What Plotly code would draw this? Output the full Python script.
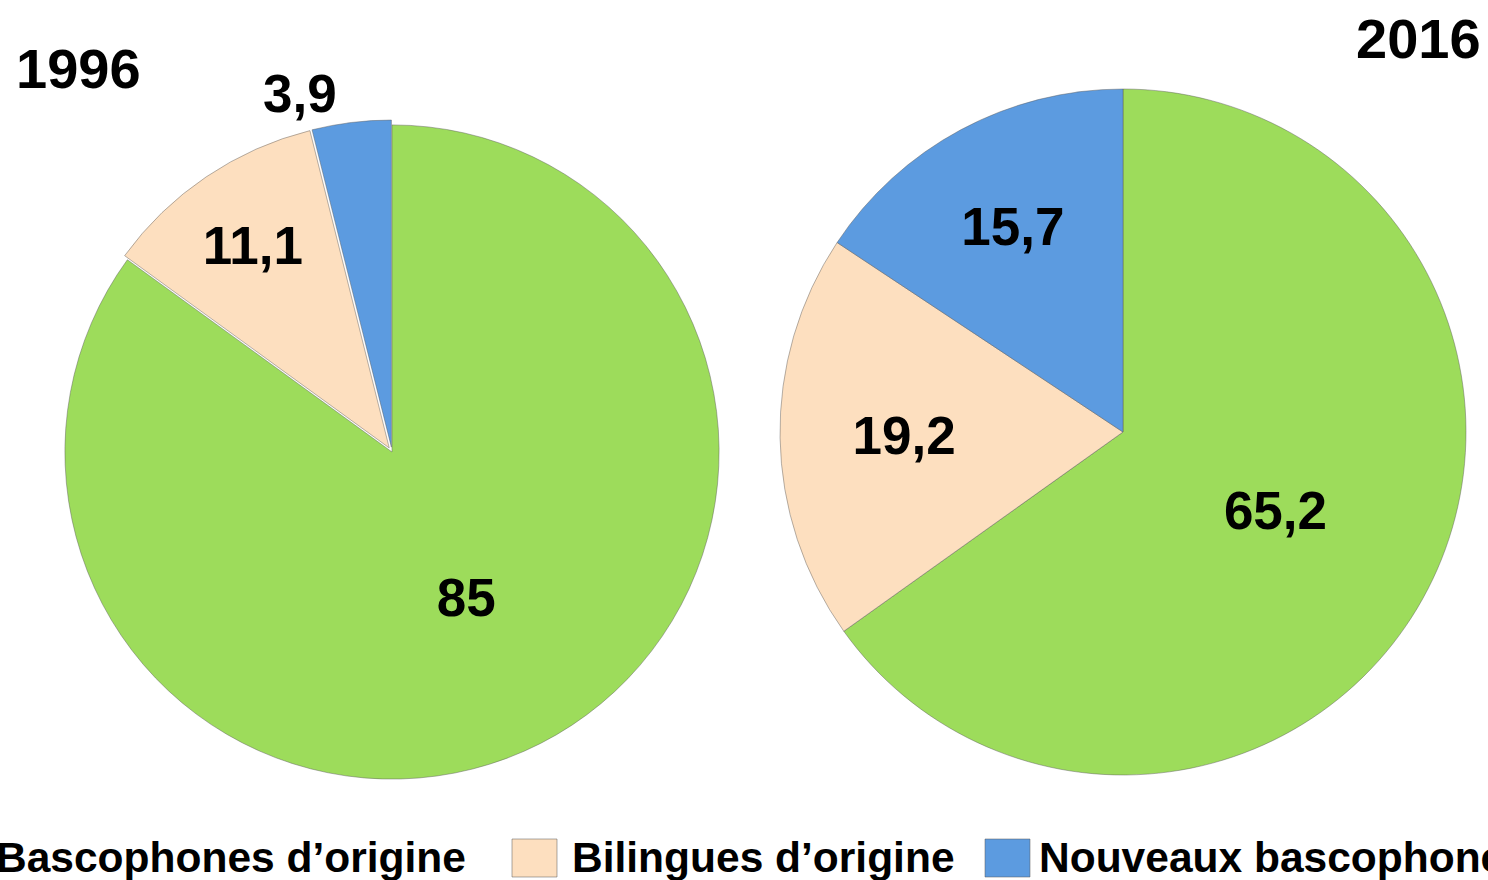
import plotly.graph_objects as go

# ---- data ----
categories = ["Bascophones d’origine", "Bilingues d’origine", "Nouveaux bascophones"]
values_1996 = [85, 11.1, 3.9]
values_2016 = [65.2, 19.2, 15.7]
years = ["1996", "2016"]
colors = ["#9DDC5B", "#FDDFBF", "#5C9BE0"]

W, H = 1488, 880
FONT = "Liberation Sans, Arial, Helvetica, sans-serif"


def fmt(v):
    return f"{v:g}".replace(".", ",")


def px_x(x):
    return x / W


def px_y(y):
    return 1 - y / H


fig = go.Figure()

line_style = dict(color="rgba(90,90,90,0.45)", width=1)

fig.add_trace(go.Pie(
    labels=categories,
    values=values_1996,
    text=[fmt(v) for v in values_1996],
    textinfo="text",
    textposition=["inside", "inside", "outside"],
    insidetextorientation="horizontal",
    textfont=dict(family=FONT, size=53, color="black", weight="bold"),
    sort=False,
    direction="clockwise",
    rotation=0,
    pull=[0, 0.015, 0.015],
    marker=dict(colors=colors, line=line_style),
    domain=dict(x=[px_x(60), px_x(724)], y=[px_y(784), px_y(120)]),
    showlegend=False,
    hoverinfo="label+value",
))

fig.add_trace(go.Pie(
    labels=categories,
    values=values_2016,
    text=[fmt(v) for v in values_2016],
    textinfo="text",
    textposition="inside",
    insidetextorientation="horizontal",
    textfont=dict(family=FONT, size=53, color="black", weight="bold"),
    sort=False,
    direction="clockwise",
    rotation=0,
    marker=dict(colors=colors, line=line_style),
    domain=dict(x=[px_x(780), px_x(1466)], y=[px_y(775), px_y(89)]),
    showlegend=False,
    hoverinfo="label+value",
))

annotations = []
shapes = []

# year titles
title_pos = [(78, 68), (1418, 38)]
for yr, (tx, ty) in zip(years, title_pos):
    annotations.append(dict(
        text=yr, x=px_x(tx), y=px_y(ty), xref="paper", yref="paper",
        xanchor="center", yanchor="middle", showarrow=False,
        font=dict(family=FONT, size=56, color="black", weight="bold"),
    ))

# legend (large square swatches, as in the original)
sym_left = [-64, 512, 985]
text_left = [-6, 570, 1037]
sym_w, sym_top, sym_bot = 45, 839, 877
for cat, col, sx, tx in zip(categories, colors, sym_left, text_left):
    shapes.append(dict(
        type="rect", xref="paper", yref="paper",
        x0=px_x(sx), x1=px_x(sx + sym_w), y0=px_y(sym_bot), y1=px_y(sym_top),
        fillcolor=col, line=dict(color="rgba(90,90,90,0.5)", width=1),
    ))
    annotations.append(dict(
        text=cat, x=px_x(tx), y=px_y(857), xref="paper", yref="paper",
        xanchor="left", yanchor="middle", showarrow=False,
        font=dict(family=FONT, size=42.5, color="black", weight="bold"),
    ))

fig.update_layout(
    width=W, height=H,
    margin=dict(l=0, r=0, t=0, b=0),
    paper_bgcolor="white",
    plot_bgcolor="white",
    annotations=annotations,
    shapes=shapes,
    showlegend=False,
)

fig.write_html(
    "out.html",
    config={"displayModeBar": False},
    post_script="document.body.style.margin='0';document.body.style.overflow='hidden';",
)
